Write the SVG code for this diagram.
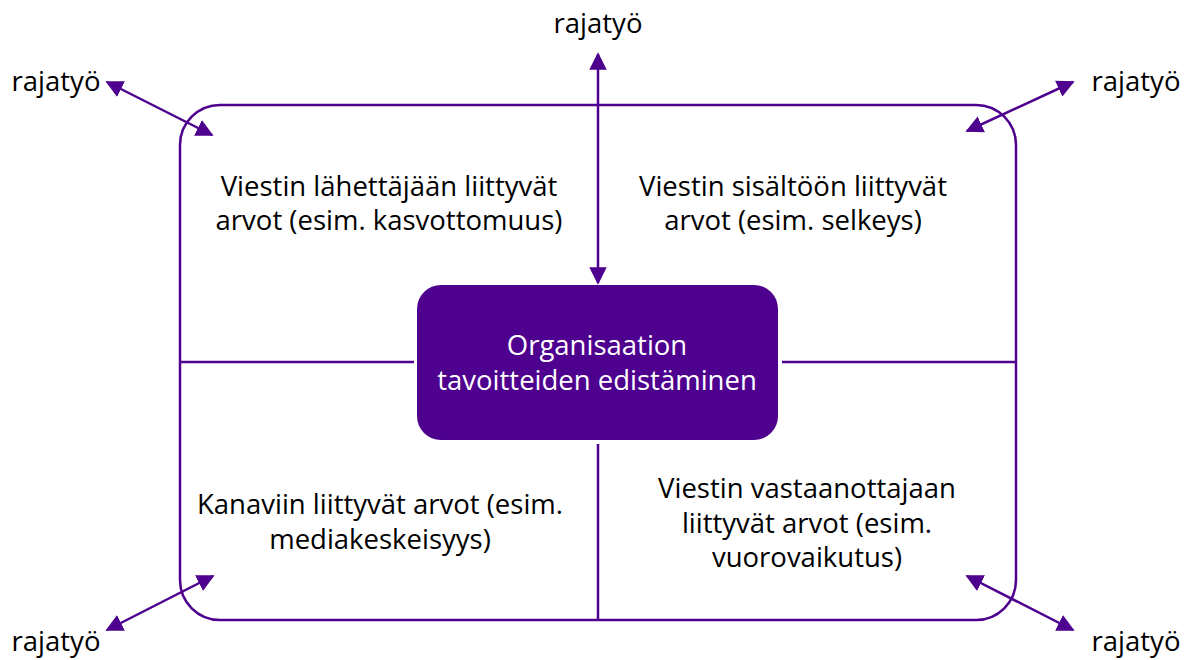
<svg xmlns="http://www.w3.org/2000/svg" width="1192" height="660" viewBox="0 0 1192 660">
<style>
.t{font-family:"Open Sans","Liberation Sans",sans-serif;font-size:27.5px;fill:#000;text-anchor:middle}
.w{fill:#fff}
.ln{stroke:#4e008e;stroke-width:2.5;fill:none}
</style>
<defs>
<marker id="ah" viewBox="0 0 10 10" refX="9" refY="5" markerWidth="7" markerHeight="7" markerUnits="strokeWidth" orient="auto-start-reverse">
<path d="M0,0 L10,5 L0,10 z" fill="#4e008e"/>
</marker>
</defs>
<rect width="1192" height="660" fill="#fff"/>
<g id="frame">
<rect class="ln" x="180" y="105" width="836" height="515" rx="40"/>
</g>
<g id="connectors">
<line class="ln" x1="180" y1="362" x2="414" y2="362"/>
<line class="ln" x1="782" y1="362" x2="1016" y2="362"/>
<line class="ln" x1="598" y1="444" x2="598" y2="620"/>
<line class="ln" x1="598" y1="283" x2="598" y2="54" marker-start="url(#ah)" marker-end="url(#ah)"/>
<line class="ln" x1="212" y1="135" x2="107" y2="82" marker-start="url(#ah)" marker-end="url(#ah)"/>
<line class="ln" x1="967" y1="131" x2="1073" y2="82" marker-start="url(#ah)" marker-end="url(#ah)"/>
<line class="ln" x1="213" y1="576" x2="107" y2="630" marker-start="url(#ah)" marker-end="url(#ah)"/>
<line class="ln" x1="967" y1="576" x2="1073" y2="630" marker-start="url(#ah)" marker-end="url(#ah)"/>
</g>
<g id="center">
<rect x="417" y="285" width="361" height="155" rx="24" fill="#4e008e"/>
<text class="t w" x="597" y="355">Organisaation</text>
<text class="t w" x="597" y="390">tavoitteiden edistäminen</text>
</g>
<g id="q-tl">
<text class="t" x="389" y="196">Viestin lähettäjään liittyvät</text>
<text class="t" x="389" y="230">arvot (esim. kasvottomuus)</text>
</g>
<g id="q-tr">
<text class="t" x="793" y="196">Viestin sisältöön liittyvät</text>
<text class="t" x="793" y="230">arvot (esim. selkeys)</text>
</g>
<g id="q-bl">
<text class="t" x="380" y="514">Kanaviin liittyvät arvot (esim.</text>
<text class="t" x="380" y="549">mediakeskeisyys)</text>
</g>
<g id="q-br">
<text class="t" x="807" y="498">Viestin vastaanottajaan</text>
<text class="t" x="807" y="533">liittyvät arvot (esim.</text>
<text class="t" x="807" y="567">vuorovaikutus)</text>
</g>
<g id="labels">
<text class="t" x="598" y="33">rajatyö</text>
<text class="t" x="56" y="91">rajatyö</text>
<text class="t" x="1136" y="91">rajatyö</text>
<text class="t" x="56" y="651">rajatyö</text>
<text class="t" x="1136" y="651">rajatyö</text>
</g>
</svg>
